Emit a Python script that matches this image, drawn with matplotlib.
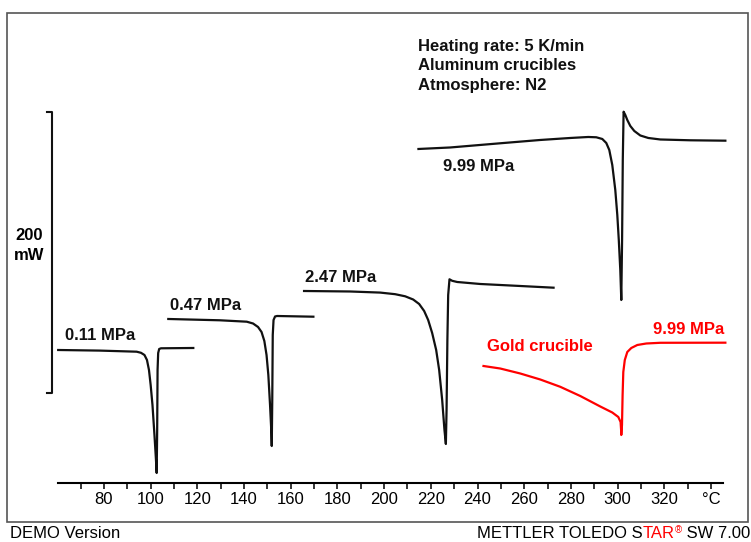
import matplotlib
matplotlib.use("Agg")
import matplotlib.pyplot as plt
from matplotlib.patches import Rectangle

plt.rcParams['font.family'] = ['Liberation Sans', 'DejaVu Sans']

# -------------------------
# Data (temperature in °C, heat flow in mW, offset)
# -------------------------
t_011 = [60.41, 78.29, 94.01, 95.86, 97.36, 98.43, 99.29, 100.01, 100.79, 101.64, 102.29,
         102.59, 102.8, 102.97, 103.23, 103.66, 104.43, 118.27]
q_011 = [94.66, 94.23, 93.45, 92.67, 91.1, 87.54, 80.43, 69.75, 55.52, 34.16, 16.37,
         7.12, 37.72, 80.43, 92.53, 95.37, 95.87, 96.09]

t_047 = [107.56, 129.71, 141.16, 143.86, 146.0, 147.5, 148.7, 149.64, 150.41, 151.14, 151.66,
         151.87, 152.09, 152.3, 152.64, 153.29, 154.14, 169.7]
q_047 = [116.73, 115.8, 114.8, 113.52, 111.03, 107.47, 101.07, 91.1, 76.87, 55.52, 37.72,
         26.33, 59.07, 105.34, 116.01, 118.51, 118.86, 118.36]

t_247 = [165.71, 185.43, 198.29, 204.71, 209.0, 212.43, 215.0, 217.14, 218.86, 220.57, 222.29,
         223.57, 224.86, 225.84, 226.44, 226.74, 227.09, 227.43, 227.99, 229.14, 231.29,
         241.14, 258.29, 272.56]
q_247 = [136.65, 136.3, 135.52, 134.38, 132.88, 130.6, 127.4, 122.42, 116.01, 106.76, 94.66,
         80.43, 59.07, 37.72, 27.76, 51.96, 101.78, 133.81, 144.98, 143.91, 143.06,
         141.64, 140.21, 139.0]

t_999 = [214.7, 228.29, 249.71, 266.86, 279.71, 287.43, 290.86, 293.43, 295.14, 296.43, 297.71,
         299.0, 299.86, 300.5, 301.14, 301.57, 301.91, 302.21, 302.56, 303.29, 304.14, 305.43,
         307.14, 309.71, 313.14, 318.29, 331.14, 346.14]
q_999 = [237.72, 238.79, 241.78, 244.13, 245.55, 246.26, 246.05, 244.84, 241.99, 237.01, 226.33,
         208.54, 190.75, 172.95, 151.6, 130.25, 172.95, 229.89, 264.27, 261.92, 258.36, 254.09,
         250.53, 247.33, 245.55, 244.48, 243.91, 243.63]

t_gold = [242.56, 249.71, 258.29, 266.86, 275.43, 284.0, 292.57, 297.71, 300.29, 301.27, 301.49,
          301.57, 301.87, 302.13, 302.43, 303.07, 304.14, 305.86, 308.43, 312.29, 318.29, 346.14]
q_gold = [83.27, 81.49, 77.94, 73.67, 68.47, 61.92, 54.45, 50.18, 46.98, 43.42, 37.72,
          34.16, 41.28, 62.63, 79.0, 87.54, 93.24, 96.09, 98.22, 99.29, 99.79, 99.86]

major_ticks = [80, 100, 120, 140, 160, 180, 200, 220, 240, 260, 280, 300, 320, 340]
major_labels = ["80", "100", "120", "140", "160", "180", "200", "220", "240", "260",
                "280", "300", "320", "°C"]
minor_ticks = [70, 90, 110, 130, 150, 170, 190, 210, 230, 250, 270, 290, 310, 330]

info_lines = ["Heating rate: 5 K/min", "Aluminum crucibles", "Atmosphere: N2"]
scale_bar = [64, 264]   # 200 mW bar

W, H = 751, 542
fig = plt.figure(figsize=(W / 100, H / 100), dpi=100)

# outer frame
fig.patches.append(Rectangle((7 / W, 1 - 522 / H), 741 / W, 509 / H, transform=fig.transFigure,
                             fill=False, edgecolor="#555555", linewidth=1.2))

ax = fig.add_axes([57.7 / W, 1 - 483 / H, 665 / W, 470 / H])
ax.set_xlim(60.2, 345)
ax.set_ylim(0, 334.5)
ax.patch.set_alpha(0)

for s in ["left", "top", "right"]:
    ax.spines[s].set_visible(False)
ax.spines["bottom"].set_linewidth(1.5)
ax.set_yticks([])
ax.set_xticks(major_ticks)
ax.set_xticklabels(major_labels)
ax.set_xticks(minor_ticks, minor=True)
ax.tick_params(axis="x", which="both", direction="out", length=4.3, width=1.1,
               labelsize=12, pad=2.5)

# curves
black = "#111111"
red = "#ff0000"
for t, q in [(t_011, q_011), (t_047, q_047), (t_247, q_247), (t_999, q_999)]:
    ax.plot(t, q, color=black, lw=1.6, clip_on=False, solid_joinstyle="round")
ax.plot(t_gold, q_gold, color=red, lw=1.6, clip_on=False, solid_joinstyle="round")

# curve labels
lab = dict(fontsize=12, fontweight="bold", va="center")
ax.text(63.3, 105.3, "0.11 MPa", color=black, **lab)
ax.text(108.3, 126.0, "0.47 MPa", color=black, **lab)
ax.text(166.1, 146.6, "2.47 MPa", color=black, **lab)
ax.text(225.4, 225.1, "9.99 MPa", color=black, **lab)
ax.text(244.0, 97.0, "Gold crucible", color=red, **lab)
ax.text(345.7, 109.4, "9.99 MPa", color=red, ha="right", **lab)

# experiment info, one line at a time
for line, y in zip(info_lines, [310.5, 296.8, 282.6]):
    ax.text(214.3, y, line, fontsize=12, fontweight="bold", va="center", ha="left", color=black)

# 200 mW scale bar
ax.plot([55.6, 57.7, 57.7, 55.6], [scale_bar[0], scale_bar[0], scale_bar[1], scale_bar[1]],
        color=black, lw=1.5, clip_on=False)
fig.text(29 / W, 1 - 235 / H, "200", fontsize=12, fontweight="bold", ha="center", va="center")
fig.text(29 / W, 1 - 255 / H, "mW", fontsize=12, fontweight="bold", ha="center", va="center")

# footer
fig.text(10 / W, 1 - 534 / H, "DEMO Version", fontsize=12, va="center", ha="left")

renderer = fig.canvas.get_renderer()
x_right = 750 / W
pieces = [(" SW 7.00", "black", 12, 0.0), ("®", red, 7, 0.008), ("TAR", red, 12, 0.0),
          ("METTLER TOLEDO S", "black", 12, 0.0)]
for txt, col, size, dy in pieces:
    t = fig.text(x_right, 1 - 534 / H + dy, txt, fontsize=size, color=col, ha="right",
                 va="center")
    bb = t.get_window_extent(renderer)
    x_right = bb.x0 / W

fig.savefig("out.png", dpi=100)
